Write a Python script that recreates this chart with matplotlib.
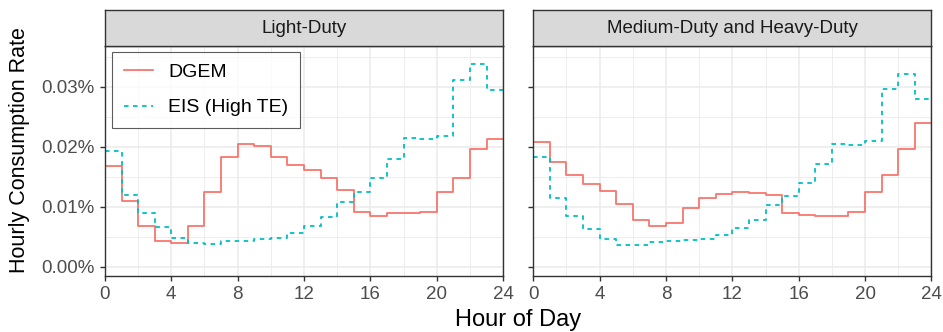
import numpy as np
import matplotlib.pyplot as plt
from matplotlib.ticker import FuncFormatter, MultipleLocator

plt.rcParams['font.family'] = ['Liberation Sans', 'DejaVu Sans']

hours = np.arange(0, 25)
panels = ["Light-Duty", "Medium-Duty and Heavy-Duty"]
series = ["DGEM", "EIS (High TE)"]

# hourly consumption rate in percent, one value per hour 0..23
ld_dgem = [0.0167, 0.0109, 0.0067, 0.0043, 0.0040, 0.0067, 0.0125, 0.0183,
           0.0204, 0.0201, 0.0183, 0.0169, 0.0161, 0.0147, 0.0128, 0.0091,
           0.0084, 0.0089, 0.0090, 0.0091, 0.0124, 0.0148, 0.0196, 0.0212]
ld_eis = [0.0193, 0.0119, 0.0089, 0.0066, 0.0048, 0.0039, 0.0037, 0.0042,
          0.0043, 0.0046, 0.0048, 0.0056, 0.0067, 0.0082, 0.0107, 0.0124,
          0.0147, 0.0179, 0.0215, 0.0213, 0.0218, 0.0311, 0.0337, 0.0294]
mhd_dgem = [0.0208, 0.0175, 0.0152, 0.0138, 0.0126, 0.0104, 0.0077, 0.0067,
            0.0073, 0.0098, 0.0114, 0.0121, 0.0124, 0.0123, 0.0119, 0.0089,
            0.0086, 0.0085, 0.0085, 0.0091, 0.0124, 0.0152, 0.0196, 0.0240]
mhd_eis = [0.0183, 0.0114, 0.0085, 0.0062, 0.0046, 0.0036, 0.0036, 0.0041,
           0.0042, 0.0044, 0.0046, 0.0053, 0.0064, 0.0078, 0.0103, 0.0118,
           0.0139, 0.0171, 0.0204, 0.0203, 0.0209, 0.0296, 0.0321, 0.0280]

data = {
    "Light-Duty": (ld_dgem, ld_eis),
    "Medium-Duty and Heavy-Duty": (mhd_dgem, mhd_eis),
}

red = '#F8766D'
teal = '#00BFC4'
dark = '#333333'
grid_c = '#EBEBEB'

fig = plt.figure(figsize=(9.43, 3.32), dpi=100)
lefts = [0.1113, 0.5655]
width = 0.4222
bottom, height = 0.1696, 0.6918
strip_h = 0.1084

for i, name in enumerate(panels):
    ax = fig.add_axes([lefts[i], bottom, width, height])
    dgem, eis = data[name]
    ax.step(hours, dgem + [dgem[-1]], where='post', color=red, lw=1.3, label=series[0])
    ax.step(hours, eis + [eis[-1]], where='post', color=teal, lw=1.3,
            dashes=(2.5, 2.5), label=series[1])
    ax.set_xlim(0, 24)
    ax.set_ylim(-0.0015, 0.03678)
    ax.xaxis.set_major_locator(MultipleLocator(4))
    ax.xaxis.set_minor_locator(MultipleLocator(2))
    ax.yaxis.set_major_locator(MultipleLocator(0.01))
    ax.yaxis.set_minor_locator(MultipleLocator(0.005))
    ax.grid(which='major', color=grid_c, lw=1.1)
    ax.grid(which='minor', color=grid_c, lw=0.6)
    ax.set_axisbelow(True)
    for s in ax.spines.values():
        s.set_color(dark)
        s.set_linewidth(1.0)
    ax.tick_params(which='major', length=3.5, width=1.0, color=dark,
                   labelsize=13.5, labelcolor='#4D4D4D', pad=4)
    ax.tick_params(which='minor', length=0)
    if i == 0:
        ax.yaxis.set_major_formatter(FuncFormatter(lambda v, p: f"{v:.2f}%"))
        ax.legend(loc='upper left', bbox_to_anchor=(0.0176, 0.974), borderaxespad=0,
                  fontsize=14, frameon=True, fancybox=False, edgecolor=dark,
                  handlelength=1.5, handletextpad=0.8, labelspacing=0.9,
                  borderpad=0.6).get_frame().set_linewidth(0.8)
    else:
        ax.tick_params(axis='y', labelleft=False)

    sax = fig.add_axes([lefts[i], bottom + height, width, strip_h])
    sax.set_facecolor('#D9D9D9')
    sax.set_xticks([])
    sax.set_yticks([])
    for s in sax.spines.values():
        s.set_color(dark)
        s.set_linewidth(1.0)
    sax.text(0.5, 0.5, name, ha='center', va='center', fontsize=13.5,
             color='#1A1A1A', transform=sax.transAxes)

fig.text(0.021, 0.548, "Hourly Consumption Rate", rotation=90,
         ha='center', va='center', fontsize=15.5)
fig.text((lefts[0] + lefts[1] + width) / 2, 0.035, "Hour of Day",
         ha='center', va='center', fontsize=17)

fig.savefig('out.png', dpi=100)
